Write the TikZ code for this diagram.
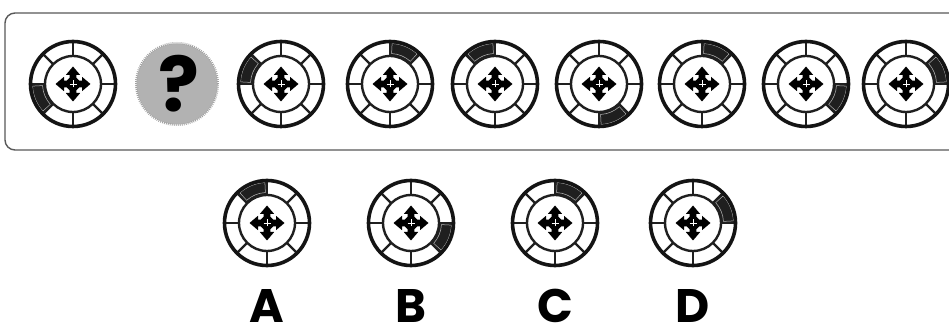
\documentclass[tikz,border=0pt]{standalone}
\usepackage{fontspec}
\newfontfamily\labfont{Poppins}
\tikzset{
  x=1pt, y=1pt,
  ringline/.style={line width=3.6pt, black!92},
  innerline/.style={line width=2.4pt, black!88},
  divline/.style={line width=2.2pt, black!88},
  segfill/.style={fill=black!88},
  seginset/.style={draw=gray!55, line width=0.5pt},
  lettr/.style={font=\labfont\bfseries\fontsize{47}{47}\selectfont, inner sep=0pt, anchor=base},
  frame/.style={draw=black!65, line width=1.4pt, rounded corners=10pt},
  compass/.pic={
    \fill[black] (0,17.5) -- (7.2,9) -- (3.4,9) -- (3.4,6.2) -- (6.2,3.4) -- (9,3.4) -- (9,7.2)
      -- (17.5,0) -- (9,-7.2) -- (9,-3.4) -- (6.2,-3.4) -- (3.4,-6.2) -- (3.4,-9) -- (7.2,-9)
      -- (0,-17.5) -- (-7.2,-9) -- (-3.4,-9) -- (-3.4,-6.2) -- (-6.2,-3.4) -- (-9,-3.4) -- (-9,-7.2)
      -- (-17.5,0) -- (-9,7.2) -- (-9,3.4) -- (-6.2,3.4) -- (-3.4,6.2) -- (-3.4,9) -- (-7.2,9) -- cycle;
    \draw[white, line width=0.5pt] (0,-3.5) -- (0,3.5) (-3.5,0) -- (3.5,0);
  },
  ring/.pic={
    \fill[segfill] (#1:28) arc[start angle=#1, end angle=#1+45, radius=28]
      -- (#1+45:43) arc[start angle=#1+45, end angle=#1, radius=43] -- cycle;
    \draw[seginset] (#1+3:30.5) arc[start angle=#1+3, end angle=#1+42, radius=30.5]
      -- (#1+42:40.5) arc[start angle=#1+42, end angle=#1+3, radius=40.5] -- cycle;
    \foreach \a in {0,45,...,315} {\draw[divline] (\a:28) -- (\a:43);}
    \draw[innerline] (0,0) circle[radius=28];
    \draw[ringline] (0,0) circle[radius=42.5];
    \pic {compass};
  }
}
\begin{document}
\begin{tikzpicture}
\useasboundingbox (0,0) rectangle (949,329);
\fill[white] (0,0) rectangle (949,329);
\begin{scope}
\clip (0,0) rectangle (949,329);
\draw[frame] (5,179) rectangle (970,316);
\end{scope}
% main row
\pic at (73,245) {ring=180};
\fill[gray!60] (177,245) circle[radius=40.5];
\draw[gray!75, line width=2pt, dash pattern=on 0.8pt off 1.2pt] (177,245) circle[radius=41];
\node[font=\labfont\bfseries\fontsize{76}{76}\selectfont, inner sep=0pt] (qm) at (179,245) {?};
\pic at (281,245) {ring=135};
\pic at (390,245) {ring=45};
\pic at (495,245) {ring=90};
\pic at (599,245) {ring=270};
\pic at (702,245) {ring=45};
\pic at (806,245) {ring=315};
\pic at (906,245) {ring=0};
% options
\pic at (267,106) {ring=90};
\pic at (411,106) {ring=315};
\pic at (555,106) {ring=45};
\pic at (693,106) {ring=0};
\node[lettr] (la) at (267,7) {A};
\node[lettr] (lb) at (411,7) {B};
\node[lettr] (lc) at (555,7) {C};
\node[lettr] (ld) at (693,7) {D};
\end{tikzpicture}
\end{document}
